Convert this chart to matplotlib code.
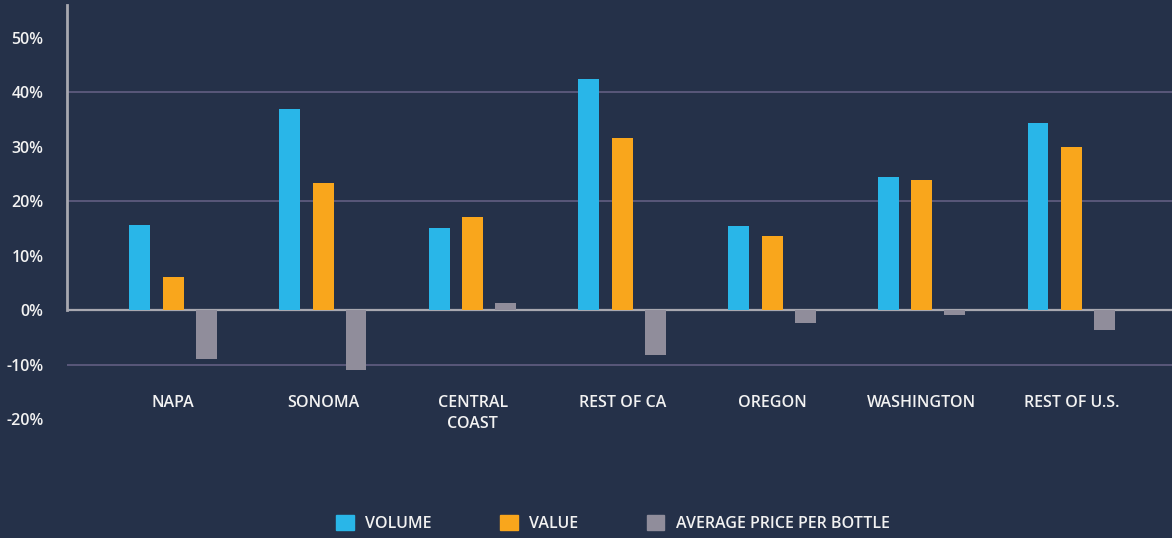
import numpy as np
import matplotlib.pyplot as plt
from matplotlib.patches import Patch

# data (% change)
regions = ["NAPA", "SONOMA", "CENTRAL\nCOAST", "REST OF CA", "OREGON", "WASHINGTON", "REST OF U.S."]
volume = [15.6, 37.0, 15.0, 42.5, 15.4, 24.5, 34.4]
value = [6.0, 23.3, 17.0, 31.5, 13.6, 23.8, 29.9]
avg_price = [-9.0, -11.0, 1.3, -8.2, -2.4, -0.9, -3.7]
yticks = [50, 40, 30, 20, 10, 0, -10, -20]
grid_at = [40, 20, -10]

bg = "#253149"
c_vol = "#29b6e8"
c_val = "#f9a61c"
c_price = "#908d9b"
txt = "#f2f2f2"

plt.rcParams['font.family'] = ['Open Sans', 'DejaVu Sans']
plt.rcParams['font.weight'] = 'semibold'

fig = plt.figure(figsize=(11.72, 5.38), dpi=100, facecolor=bg)
ax = fig.add_axes([0.0572, 0.2212, 0.9428, 0.7695])
ax.set_facecolor(bg)

x = np.arange(len(regions))
w = 0.14
ax.bar(x - 0.225, volume, w, color=c_vol, zorder=3)
ax.bar(x, value, w, color=c_val, zorder=3)
ax.bar(x + 0.22, avg_price, w, color=c_price, zorder=3)

ax.set_xlim(-0.71, 6.67)
ax.set_ylim(-20, 56)

for g in grid_at:
    ax.axhline(g, color="#5d5b7e", lw=1.3, zorder=1)
ax.axhline(0, color="#a8a8b0", lw=1.6, zorder=2)
ax.plot([-0.71, -0.71], [0, 56], color="#a8a8b0", lw=2, clip_on=False, zorder=2)

for s in ax.spines.values():
    s.set_visible(False)

ax.set_yticks(yticks)
ax.set_yticklabels([f"{t}%" for t in yticks])
ax.tick_params(axis="y", length=0, pad=17, labelsize=11.5, labelcolor=txt)
ax.set_xticks([])

for i, r in enumerate(regions):
    ax.text(i, -15.6, r, ha="center", va="top", color=txt, fontsize=11.5,
            linespacing=1.45)

handles = [Patch(color=c_vol, label="VOLUME"),
           Patch(color=c_val, label="VALUE"),
           Patch(color=c_price, label="AVERAGE PRICE PER BOTTLE")]
leg = fig.legend(handles=handles, loc="center", bbox_to_anchor=(0.523, 0.027), ncol=3,
                 frameon=False, fontsize=11.5, handlelength=1.1, handleheight=1.1,
                 handletextpad=0.7, columnspacing=4.3)
for t in leg.get_texts():
    t.set_color(txt)

fig.savefig("out.png", dpi=100, facecolor=bg)
